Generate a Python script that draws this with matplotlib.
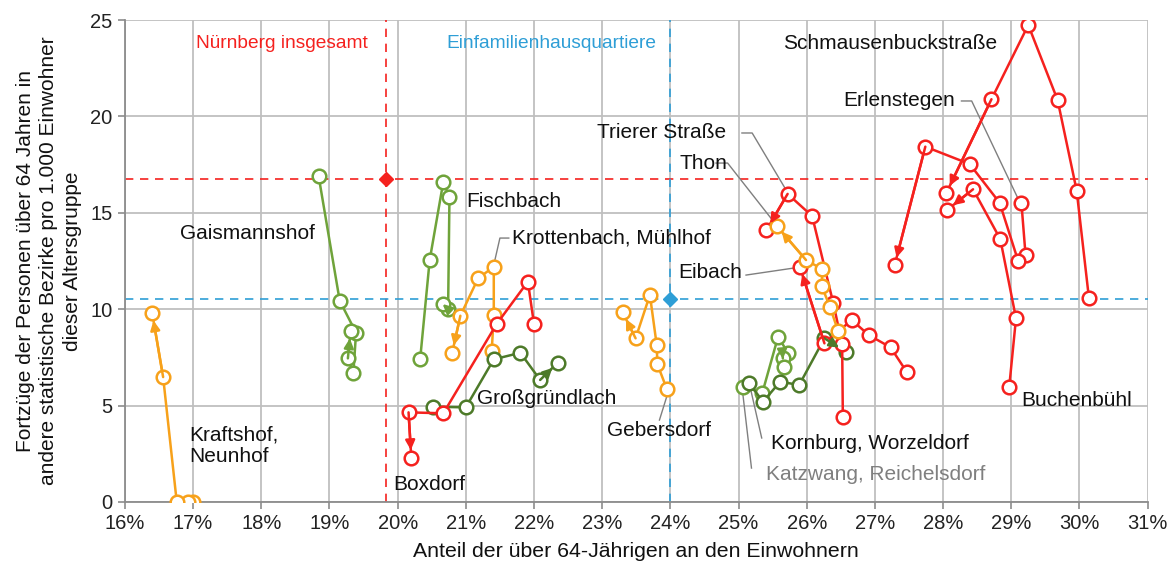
import matplotlib
matplotlib.use("Agg")
import matplotlib.pyplot as plt

plt.rcParams['font.family'] = ['Liberation Sans', 'DejaVu Sans']

RED = '#F5211E'
ORANGE = '#F7A11A'
LGREEN = '#6FA33A'
DGREEN = '#4D7A29'
BLUE = '#2E9ED6'
GRAY = '#7F7F7F'

# ---- data: (x = share over 64 in %, y = move-outs per 1000) ----
kraftshof_x = [17.00, 16.92, 16.76, 16.56, 16.40]
kraftshof_y = [0.0, 0.0, 0.0, 6.48, 9.80]

gaismannshof_x = [18.84, 19.15, 19.39, 19.35, 19.27, 19.31]
gaismannshof_y = [16.92, 10.44, 8.78, 6.68, 7.45, 8.88]

fischbach_x = [20.33, 20.47, 20.67, 20.76, 20.74, 20.66]
fischbach_y = [7.40, 12.55, 16.61, 15.80, 10.01, 10.27]

krottenbach_x = [21.38, 21.41, 21.41, 21.18, 20.92, 20.80]
krottenbach_y = [7.83, 9.70, 12.20, 11.60, 9.66, 7.74]

boxdorf_x = [22.00, 21.91, 21.45, 20.67, 20.16, 20.20]
boxdorf_y = [9.23, 11.43, 9.22, 4.60, 4.65, 2.30]

grossgruendlach_x = [20.52, 21.00, 21.41, 21.80, 22.09, 22.35]
grossgruendlach_y = [4.94, 4.91, 7.40, 7.74, 6.33, 7.23]

gebersdorf_x = [23.95, 23.81, 23.80, 23.70, 23.49, 23.30]
gebersdorf_y = [5.85, 7.14, 8.14, 10.74, 8.49, 9.84]

trierer_x = [26.53, 26.52, 26.39, 26.08, 25.72, 25.41]
trierer_y = [4.42, 8.19, 10.31, 14.83, 15.98, 14.11]

thon_x = [26.46, 26.34, 26.22, 26.23, 25.99, 25.56]
thon_y = [8.88, 10.13, 11.20, 12.07, 12.55, 14.32]

eibach_x = [27.47, 27.23, 26.91, 26.66, 26.26, 25.90]
eibach_y = [6.73, 8.02, 8.66, 9.44, 8.23, 12.20]

kornburg_x = [25.15, 25.36, 25.61, 25.89, 26.26, 26.57]
kornburg_y = [6.19, 5.20, 6.24, 6.07, 8.49, 7.80]

katzwang_x = [25.07, 25.35, 25.58, 25.73, 25.65, 25.66]
katzwang_y = [5.98, 5.67, 8.57, 7.71, 7.45, 7.02]

schmausen_x = [30.14, 29.96, 29.68, 29.25, 28.71, 28.05]
schmausen_y = [10.57, 16.15, 20.85, 24.74, 20.89, 16.04]

erlenstegen_x = [29.15, 29.21, 29.10, 28.83, 28.39, 27.74, 27.29]
erlenstegen_y = [15.49, 12.81, 12.52, 15.52, 17.53, 18.43, 12.29]

buchenbuehl_x = [28.97, 29.07, 28.84, 28.44, 28.06]
buchenbuehl_y = [5.95, 9.53, 13.63, 16.22, 15.15]

nbg_x, nbg_y = 19.83, 16.75
efh_x, efh_y = 24.00, 10.55

x_ticks = list(range(16, 32))
y_ticks = [0, 5, 10, 15, 20, 25]

series = [
    (kraftshof_x, kraftshof_y, ORANGE),
    (gaismannshof_x, gaismannshof_y, LGREEN),
    (fischbach_x, fischbach_y, LGREEN),
    (krottenbach_x, krottenbach_y, ORANGE),
    (grossgruendlach_x, grossgruendlach_y, DGREEN),
    (boxdorf_x, boxdorf_y, RED),
    (gebersdorf_x, gebersdorf_y, ORANGE),
    (katzwang_x, katzwang_y, LGREEN),
    (kornburg_x, kornburg_y, DGREEN),
    (trierer_x, trierer_y, RED),
    (eibach_x, eibach_y, RED),
    (thon_x, thon_y, ORANGE),
    (schmausen_x, schmausen_y, RED),
    (erlenstegen_x, erlenstegen_y, RED),
    (buchenbuehl_x, buchenbuehl_y, RED),
]

fig = plt.figure(figsize=(11.71, 5.70), dpi=100)
ax = fig.add_axes([0.1067, 0.1193, 0.8733, 0.8456])
ax.set_xlim(16, 31)
ax.set_ylim(0, 25)
ax.set_xticks(x_ticks)
ax.set_xticklabels([f"{t}%" for t in x_ticks])
ax.set_yticks(y_ticks)
ax.grid(True, color='#BFBFBF', lw=1.3, zorder=0)
ax.set_axisbelow(True)
for s in ['top', 'right']:
    ax.spines[s].set_visible(False)
for s in ['left', 'bottom']:
    ax.spines[s].set_color('#8C8C8C')
    ax.spines[s].set_linewidth(1.3)
ax.tick_params(axis='both', direction='out', length=5, width=1.2, color='#8C8C8C',
               labelsize=14.5, labelcolor='#222222', pad=4)

# reference lines
ax.axhline(nbg_y, color=RED, ls=(0, (5, 4)), lw=1.2, zorder=1)
ax.axvline(nbg_x, color=RED, ls=(0, (5, 4)), lw=1.2, zorder=1)
ax.axhline(efh_y, color=BLUE, ls=(0, (5, 4)), lw=1.2, zorder=1)
ax.axvline(efh_x, color=BLUE, ls=(0, (5, 4)), lw=1.2, zorder=1)
ax.plot([nbg_x], [nbg_y], marker='D', color=RED, ms=7, zorder=6)
ax.plot([efh_x], [efh_y], marker='D', color=BLUE, ms=7, zorder=6)

# leader lines (annotation layout)
leaders = [
    ([21.63, 21.50, 21.42], [13.69, 13.69, 12.45]),
    ([25.05, 25.20, 25.69], [19.14, 19.14, 16.23]),
    ([24.67, 24.84, 25.52], [17.58, 17.58, 14.52]),
    ([25.11, 25.82], [11.77, 12.14]),
    ([28.27, 28.42, 29.11], [20.80, 20.80, 15.66]),
    ([23.95, 23.84], [5.50, 4.25]),
    ([25.18, 25.34], [5.81, 3.32]),
    ([25.06, 25.19], [5.70, 1.76]),
]
for lx, ly in leaders:
    ax.plot(lx, ly, color=GRAY, lw=1.0, zorder=2)

for xs, ys, c in series:
    ax.plot(xs, ys, color=c, lw=1.8, marker='o', ms=9.8, mfc='white', mec=c,
            mew=1.8, zorder=4)
    ax.annotate('', xy=(xs[-1], ys[-1]), xytext=(xs[-2], ys[-2]),
                arrowprops=dict(arrowstyle='-|>', color=c, lw=1.8,
                                shrinkA=0, shrinkB=5.5, mutation_scale=14),
                zorder=5)

fs = 15
ax.text(18.30, 23.76, 'Nürnberg insgesamt', color=RED, fontsize=13.8, ha='center', va='center')
ax.text(22.25, 23.76, 'Einfamilienhausquartiere', color=BLUE, fontsize=13.8, ha='center', va='center')
labels = [
    (25.65, 23.76, 'Schmausenbuckstraße', '#111111'),
    (26.53, 20.80, 'Erlenstegen', '#111111'),
    (22.92, 19.14, 'Trierer Straße', '#111111'),
    (24.14, 17.58, 'Thon', '#111111'),
    (21.01, 15.61, 'Fischbach', '#111111'),
    (16.81, 13.95, 'Gaismannshof', '#111111'),
    (21.67, 13.69, 'Krottenbach, Mühlhof', '#111111'),
    (24.11, 11.88, 'Eibach', '#111111'),
    (21.16, 5.39, 'Großgründlach', '#111111'),
    (23.07, 3.73, 'Gebersdorf', '#111111'),
    (25.47, 3.01, 'Kornburg, Worzeldorf', '#111111'),
    (25.41, 1.45, 'Katzwang, Reichelsdorf', GRAY),
    (19.93, 0.93, 'Boxdorf', '#111111'),
    (29.15, 5.29, 'Buchenbühl', '#111111'),
]
for lx, ly, t, c in labels:
    ax.text(lx, ly, t, color=c, fontsize=fs, ha='left', va='center')
ax.text(16.95, 2.9, 'Kraftshof,\nNeunhof', color='#111111', fontsize=fs,
        ha='left', va='center', linespacing=1.15)

ax.set_xlabel('Anteil der über 64-Jährigen an den Einwohnern', fontsize=15.3,
              color='#111111', labelpad=6)
ax.set_ylabel('Fortzüge der Personen über 64 Jahren in\nandere statistische Bezirke pro 1.000 Einwohner\ndieser Altersgruppe',
              fontsize=15, color='#111111', linespacing=1.3, labelpad=6)

fig.savefig('out.png', dpi=100)
